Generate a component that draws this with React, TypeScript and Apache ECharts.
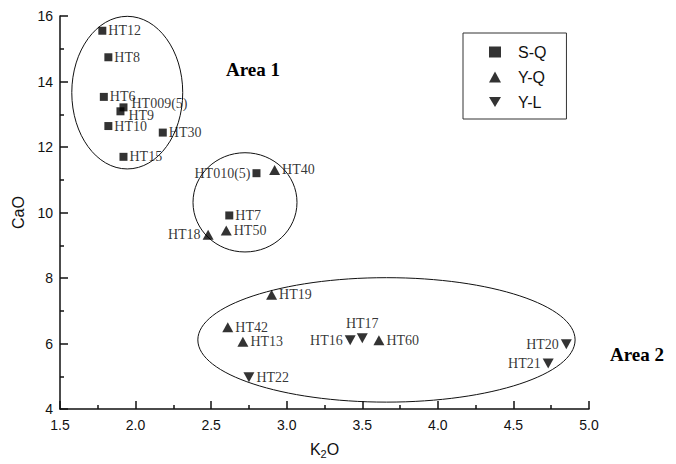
import React, { useEffect, useRef } from "react";
import * as echarts from "echarts";

const xTicks = { min: 1.5, max: 5.0, interval: 0.5 };
const yTicks = { min: 4, max: 16, interval: 2 };

const sqNames = ["HT12", "HT8", "HT6", "HT009(5)", "HT9", "HT10", "HT30", "HT15", "HT010(5)", "HT7"];
const sqX = [1.78, 1.82, 1.79, 1.92, 1.9, 1.82, 2.18, 1.92, 2.8, 2.62];
const sqY = [15.55, 14.74, 13.53, 13.21, 13.09, 12.64, 12.44, 11.7, 11.2, 9.91];

const yqNames = ["HT40", "HT50", "HT18", "HT19", "HT42", "HT13", "HT60"];
const yqX = [2.92, 2.6, 2.48, 2.9, 2.61, 2.71, 3.61];
const yqY = [11.3, 9.45, 9.32, 7.49, 6.5, 6.05, 6.1];

const ylNames = ["HT16", "HT17", "HT22", "HT20", "HT21"];
const ylX = [3.42, 3.5, 2.75, 4.85, 4.73];
const ylY = [6.1, 6.16, 4.97, 5.98, 5.39];

// ellipses: [cx, cy, rx, ry] in data units
const areaEllipses = [
  [1.945, 13.66, 0.367, 2.33],
  [2.724, 10.31, 0.344, 1.515],
  [3.66, 6.11, 1.248, 1.9],
];

const labelPos: Record<string, any> = {
  "HT009(5)": { position: "right", offset: [2, -4] },
  HT9: { position: "right", offset: [2, 4] },
  "HT010(5)": { position: "left" },
  HT18: { position: "left" },
  HT16: { position: "left" },
  HT17: { position: "top", distance: 3 },
  HT20: { position: "left" },
  HT21: { position: "left" },
};

const serif = "Liberation Serif";
const sans = "Liberation Sans";

function build(names: string[], xs: number[], ys: number[]) {
  return names.map((n, i) => ({
    name: n,
    value: [xs[i], ys[i]],
    label: labelPos[n] ? { ...labelPos[n] } : undefined,
  }));
}

const invTri = "path://M0,0L20,0L10,17Z";

export default function App() {
  const ref = useRef<HTMLDivElement>(null);
  useEffect(() => {
    const chart = echarts.init(ref.current!, undefined, { renderer: "svg" });
    const baseLabel = {
      show: true,
      position: "right",
      distance: 2,
      formatter: "{b}",
      color: "#000",
      fontFamily: serif,
      fontSize: 14,
    };
    const axisCommon = {
      axisLine: { show: true, lineStyle: { color: "#111", width: 1.5 } },
      axisTick: { show: true, inside: true, length: 8, lineStyle: { color: "#111", width: 1.5 } },
      minorTick: { show: true, splitNumber: 2, length: 4, lineStyle: { color: "#111", width: 1.5 } },
      splitLine: { show: false },
      axisLabel: { color: "#111", fontFamily: sans, fontSize: 14 },
    };
    chart.setOption({
      animation: false,
      backgroundColor: "#fff",
      grid: { left: 60, right: 87, top: 16, bottom: 44 },
      xAxis: {
        type: "value",
        ...xTicks,
        ...axisCommon,
        axisLabel: { ...axisCommon.axisLabel, margin: 9, formatter: (v: number) => v.toFixed(1) },
        name: "{a|K}{b|2}{a|O}",
        nameLocation: "middle",
        nameGap: 30,
        nameTextStyle: {
          rich: {
            a: { fontFamily: sans, fontSize: 16, color: "#111", lineHeight: 20 },
            b: { fontFamily: sans, fontSize: 11, color: "#111", lineHeight: 20, verticalAlign: "bottom" },
          },
        },
      },
      yAxis: {
        type: "value",
        ...yTicks,
        ...axisCommon,
        axisLabel: { ...axisCommon.axisLabel, margin: 7 },
        name: "CaO",
        nameLocation: "middle",
        nameGap: 33,
        nameTextStyle: { fontFamily: sans, fontSize: 16, color: "#111" },
      },
      legend: {
        data: ["S-Q", "Y-Q", "Y-L"],
        orient: "vertical",
        left: 463,
        top: 33,
        borderColor: "#333",
        borderWidth: 1,
        padding: [11, 20, 9, 26],
        itemWidth: 12,
        itemHeight: 11,
        itemGap: 9,
        textStyle: { fontFamily: sans, fontSize: 16, color: "#111", padding: [0, 0, 0, 12] },
      },
      graphic: [
        { type: "text", left: 226, top: 60, style: { text: "Area 1", font: `bold 19px ${serif}`, fill: "#000" } },
        { type: "text", left: 610, top: 345, style: { text: "Area 2", font: `bold 19px ${serif}`, fill: "#000" } },
      ],
      series: [
        {
          type: "custom",
          name: "areas",
          clip: false,
          silent: true,
          renderItem: (params: any, api: any) => {
            const c = api.coord([api.value(0), api.value(1)]);
            const s = api.size([api.value(2), api.value(3)]);
            return {
              type: "ellipse",
              shape: { cx: c[0], cy: c[1], rx: s[0], ry: s[1] },
              style: { fill: "none", stroke: "#111", lineWidth: 1 },
            };
          },
          data: areaEllipses,
          z: 1,
        },
        {
          type: "scatter",
          name: "S-Q",
          symbol: "rect",
          symbolSize: 8,
          itemStyle: { color: "#000" },
          label: baseLabel,
          data: build(sqNames, sqX, sqY),
          z: 3,
        },
        {
          type: "scatter",
          name: "Y-Q",
          symbol: "triangle",
          symbolSize: [11, 10],
          itemStyle: { color: "#000" },
          label: baseLabel,
          data: build(yqNames, yqX, yqY),
          z: 3,
        },
        {
          type: "scatter",
          name: "Y-L",
          symbol: invTri,
          symbolSize: [11, 10],
          itemStyle: { color: "#000" },
          label: baseLabel,
          data: build(ylNames, ylX, ylY),
          z: 3,
        },
      ],
    });
    return () => chart.dispose();
  }, []);
  return <div ref={ref} style={{ position: "fixed", left: 0, top: 0, width: 676, height: 464 }} />;
}
